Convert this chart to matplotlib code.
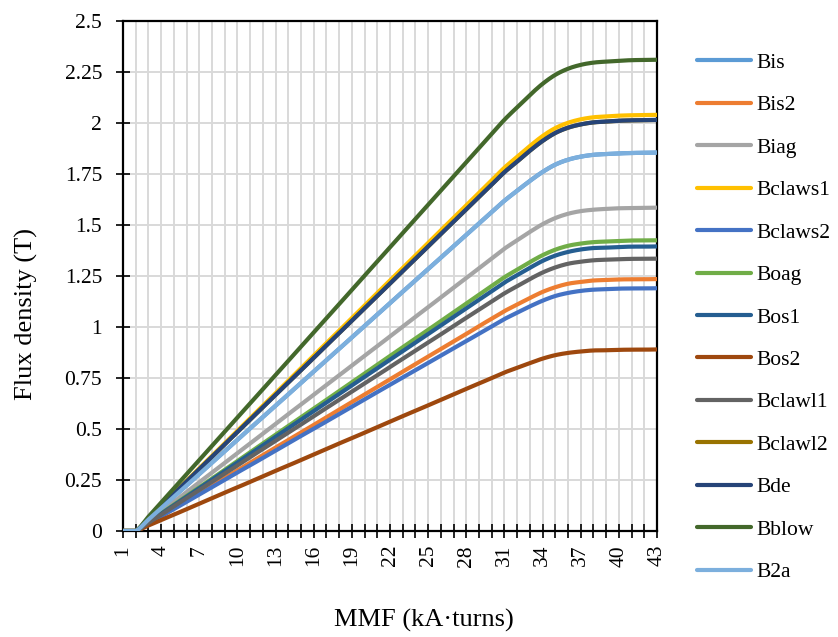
import matplotlib
matplotlib.use("Agg")
import matplotlib.pyplot as plt
import numpy as np

# MMF categories (kA·turns) and labelled ticks
mmf = list(range(1, 44))
x_tick_labels = [str(v) if (v - 1) % 3 == 0 else "" for v in mmf]
y_ticks = [0, 0.25, 0.5, 0.75, 1, 1.25, 1.5, 1.75, 2, 2.25, 2.5]
y_tick_labels = ["0", "0.25", "0.5", "0.75", "1", "1.25", "1.5", "1.75", "2", "2.25", "2.5"]

# Flux density (T) per magnetic section
Bis = [0, 0, 0.056, 0.112, 0.168, 0.223, 0.279, 0.335, 0.391, 0.447, 0.503, 0.558,
       0.614, 0.670, 0.726, 0.782, 0.838, 0.893, 0.949, 1.005, 1.061, 1.117, 1.173,
       1.228, 1.284, 1.340, 1.396, 1.452, 1.508, 1.564, 1.619,
       1.668, 1.716, 1.760, 1.796, 1.820, 1.835, 1.844, 1.848, 1.851, 1.853, 1.854, 1.855]
Bis2 = [0, 0, 0.037, 0.074, 0.112, 0.149, 0.186, 0.223, 0.260, 0.297, 0.335, 0.372,
        0.409, 0.446, 0.483, 0.520, 0.558, 0.595, 0.632, 0.669, 0.706, 0.743, 0.781,
        0.818, 0.855, 0.892, 0.929, 0.966, 1.004, 1.041, 1.078,
        1.110, 1.142, 1.172, 1.195, 1.212, 1.221, 1.228, 1.230, 1.233, 1.234, 1.234, 1.235]
Biag = [0, 0, 0.048, 0.095, 0.143, 0.191, 0.239, 0.286, 0.334, 0.382, 0.429, 0.477,
        0.525, 0.573, 0.620, 0.668, 0.716, 0.763, 0.811, 0.859, 0.906, 0.954, 1.002,
        1.050, 1.097, 1.145, 1.193, 1.240, 1.288, 1.336, 1.384,
        1.425, 1.466, 1.504, 1.534, 1.555, 1.568, 1.575, 1.579, 1.582, 1.583, 1.584, 1.585]
Bclaws1 = [0, 0, 0.061, 0.123, 0.184, 0.246, 0.307, 0.368, 0.430, 0.491, 0.553, 0.614,
           0.675, 0.737, 0.798, 0.860, 0.921, 0.982, 1.044, 1.105, 1.167, 1.228, 1.289,
           1.351, 1.412, 1.474, 1.535, 1.596, 1.658, 1.719, 1.781,
           1.834, 1.887, 1.936, 1.975, 2.001, 2.018, 2.028, 2.032, 2.036, 2.038, 2.039, 2.040]
Bclaws2 = [0, 0, 0.036, 0.072, 0.107, 0.143, 0.179, 0.215, 0.251, 0.287, 0.322, 0.358,
           0.394, 0.430, 0.466, 0.501, 0.537, 0.573, 0.609, 0.645, 0.681, 0.716, 0.752,
           0.788, 0.824, 0.860, 0.896, 0.931, 0.967, 1.003, 1.039,
           1.070, 1.101, 1.129, 1.152, 1.167, 1.177, 1.183, 1.185, 1.188, 1.189, 1.189, 1.190]
Boag = [0, 0, 0.043, 0.086, 0.129, 0.172, 0.214, 0.257, 0.300, 0.343, 0.386, 0.429,
        0.472, 0.515, 0.558, 0.600, 0.643, 0.686, 0.729, 0.772, 0.815, 0.858, 0.901,
        0.944, 0.986, 1.029, 1.072, 1.115, 1.158, 1.201, 1.244,
        1.281, 1.318, 1.352, 1.379, 1.398, 1.409, 1.416, 1.419, 1.422, 1.424, 1.424, 1.425]
Bos1 = [0, 0, 0.042, 0.084, 0.126, 0.168, 0.210, 0.252, 0.294, 0.336, 0.378, 0.420,
        0.462, 0.504, 0.546, 0.588, 0.630, 0.672, 0.714, 0.756, 0.798, 0.840, 0.882,
        0.924, 0.966, 1.008, 1.050, 1.092, 1.134, 1.176, 1.218,
        1.254, 1.290, 1.324, 1.350, 1.368, 1.380, 1.387, 1.389, 1.392, 1.394, 1.394, 1.395]
Bos2 = [0, 0, 0.027, 0.054, 0.080, 0.107, 0.134, 0.161, 0.188, 0.214, 0.241, 0.268,
        0.295, 0.321, 0.348, 0.375, 0.402, 0.429, 0.455, 0.482, 0.509, 0.536, 0.563,
        0.589, 0.616, 0.643, 0.670, 0.697, 0.723, 0.750, 0.777,
        0.800, 0.823, 0.845, 0.862, 0.873, 0.880, 0.885, 0.886, 0.888, 0.889, 0.889, 0.890]
Bclawl1 = [0, 0, 0.040, 0.080, 0.121, 0.161, 0.201, 0.241, 0.281, 0.321, 0.362, 0.402,
           0.442, 0.482, 0.522, 0.563, 0.603, 0.643, 0.683, 0.723, 0.763, 0.804, 0.844,
           0.884, 0.924, 0.964, 1.005, 1.045, 1.085, 1.125, 1.165,
           1.200, 1.235, 1.267, 1.292, 1.310, 1.320, 1.327, 1.330, 1.332, 1.334, 1.334, 1.335]
Bclawl2 = [0, 0, 0.061, 0.121, 0.182, 0.243, 0.303, 0.364, 0.425, 0.485, 0.546, 0.607,
           0.667, 0.728, 0.788, 0.849, 0.910, 0.970, 1.031, 1.092, 1.152, 1.213, 1.274,
           1.334, 1.395, 1.456, 1.516, 1.577, 1.638, 1.698, 1.759,
           1.811, 1.864, 1.912, 1.951, 1.977, 1.993, 2.003, 2.007, 2.011, 2.013, 2.014, 2.015]
Bde = [0, 0, 0.061, 0.121, 0.182, 0.243, 0.303, 0.364, 0.425, 0.485, 0.546, 0.607,
       0.667, 0.728, 0.788, 0.849, 0.910, 0.970, 1.031, 1.092, 1.152, 1.213, 1.274,
       1.334, 1.395, 1.456, 1.516, 1.577, 1.638, 1.698, 1.759,
       1.811, 1.864, 1.912, 1.951, 1.977, 1.993, 2.003, 2.007, 2.011, 2.013, 2.014, 2.015]
Bblow = [0, 0, 0.070, 0.139, 0.209, 0.278, 0.348, 0.417, 0.487, 0.556, 0.626, 0.695,
         0.765, 0.834, 0.904, 0.973, 1.043, 1.112, 1.182, 1.252, 1.321, 1.391, 1.460,
         1.530, 1.599, 1.669, 1.738, 1.808, 1.877, 1.947, 2.016,
         2.077, 2.137, 2.192, 2.236, 2.266, 2.285, 2.296, 2.301, 2.305, 2.308, 2.309, 2.310]
B2a = [0, 0, 0.056, 0.112, 0.168, 0.223, 0.279, 0.335, 0.391, 0.447, 0.503, 0.558,
       0.614, 0.670, 0.726, 0.782, 0.838, 0.893, 0.949, 1.005, 1.061, 1.117, 1.173,
       1.228, 1.284, 1.340, 1.396, 1.452, 1.508, 1.564, 1.619,
       1.668, 1.716, 1.760, 1.796, 1.820, 1.835, 1.844, 1.848, 1.851, 1.853, 1.854, 1.855]

series = [
    ("Bis", Bis, "#5B9BD5"),
    ("Bis2", Bis2, "#ED7D31"),
    ("Biag", Biag, "#A5A5A5"),
    ("Bclaws1", Bclaws1, "#FFC000"),
    ("Bclaws2", Bclaws2, "#4472C4"),
    ("Boag", Boag, "#70AD47"),
    ("Bos1", Bos1, "#255E91"),
    ("Bos2", Bos2, "#9E480E"),
    ("Bclawl1", Bclawl1, "#636363"),
    ("Bclawl2", Bclawl2, "#997300"),
    ("Bde", Bde, "#264478"),
    ("Bblow", Bblow, "#43682B"),
    ("B2a", B2a, "#7CAFDD"),
]


def smooth_path(xs, ys, steps=12):
    """Catmull-Rom style smoothed line through every data point."""
    p = np.column_stack([xs, ys]).astype(float)
    p = np.vstack([p[0], p, p[-1]])
    out = []
    t = np.linspace(0, 1, steps, endpoint=False)[:, None]
    for i in range(1, len(p) - 2):
        p0, p1, p2, p3 = p[i - 1], p[i], p[i + 1], p[i + 2]
        c1 = p1 + (p2 - p0) / 6.0
        c2 = p2 - (p3 - p1) / 6.0
        seg = ((1 - t) ** 3) * p1 + 3 * ((1 - t) ** 2) * t * c1 \
            + 3 * (1 - t) * t ** 2 * c2 + t ** 3 * p2
        out.append(seg)
    out.append(p[-2][None, :])
    out = np.vstack(out)
    return out[:, 0], np.maximum(out[:, 1], 0.0)


plt.rcParams["font.family"] = ["Liberation Serif", "DejaVu Serif"]

W, H = 838, 637
fig = plt.figure(figsize=(W / 100, H / 100), dpi=100)
ax = fig.add_axes([123 / W, 1 - 531 / H, 534 / W, 510 / H])

for name, vals, color in series:
    sx, sy = smooth_path(mmf, vals)
    ax.plot(sx, sy, color=color, lw=3.0, label=name,
            solid_capstyle="round", solid_joinstyle="round", zorder=3)

ax.set_xlim(1, 43)
ax.set_ylim(0, 2.5)
ax.set_xticks(mmf)
ax.set_xticklabels(x_tick_labels, rotation=90)
ax.set_yticks(y_ticks)
ax.set_yticklabels(y_tick_labels)

ax.grid(True, color="#D9D9D9", lw=1.4)
ax.set_axisbelow(True)
for sp in ax.spines.values():
    sp.set_color("black")
    sp.set_linewidth(1.6)

ax.tick_params(axis="both", direction="inout", length=10, width=1.2,
               color="black", labelsize=15.5)
ax.tick_params(axis="y", pad=10)
ax.tick_params(axis="x", pad=5)

ax.set_xlabel("MMF (kA·turns)", fontsize=19)
ax.set_ylabel("Flux density (T)", fontsize=19)
ax.xaxis.set_label_coords((424 - 123) / 534, (531 - 609) / 510)
ax.yaxis.set_label_coords((38 - 123) / 534, 1 - (314 - 21) / 510)

ax.legend(loc="center left", bbox_to_anchor=(697 / W, 1 - 317.5 / H),
          bbox_transform=fig.transFigure, frameon=False, fontsize=15.5,
          handlelength=2.5, handletextpad=0.25, labelspacing=1.04,
          borderpad=0, borderaxespad=0)

fig.savefig("out.png", dpi=100)
